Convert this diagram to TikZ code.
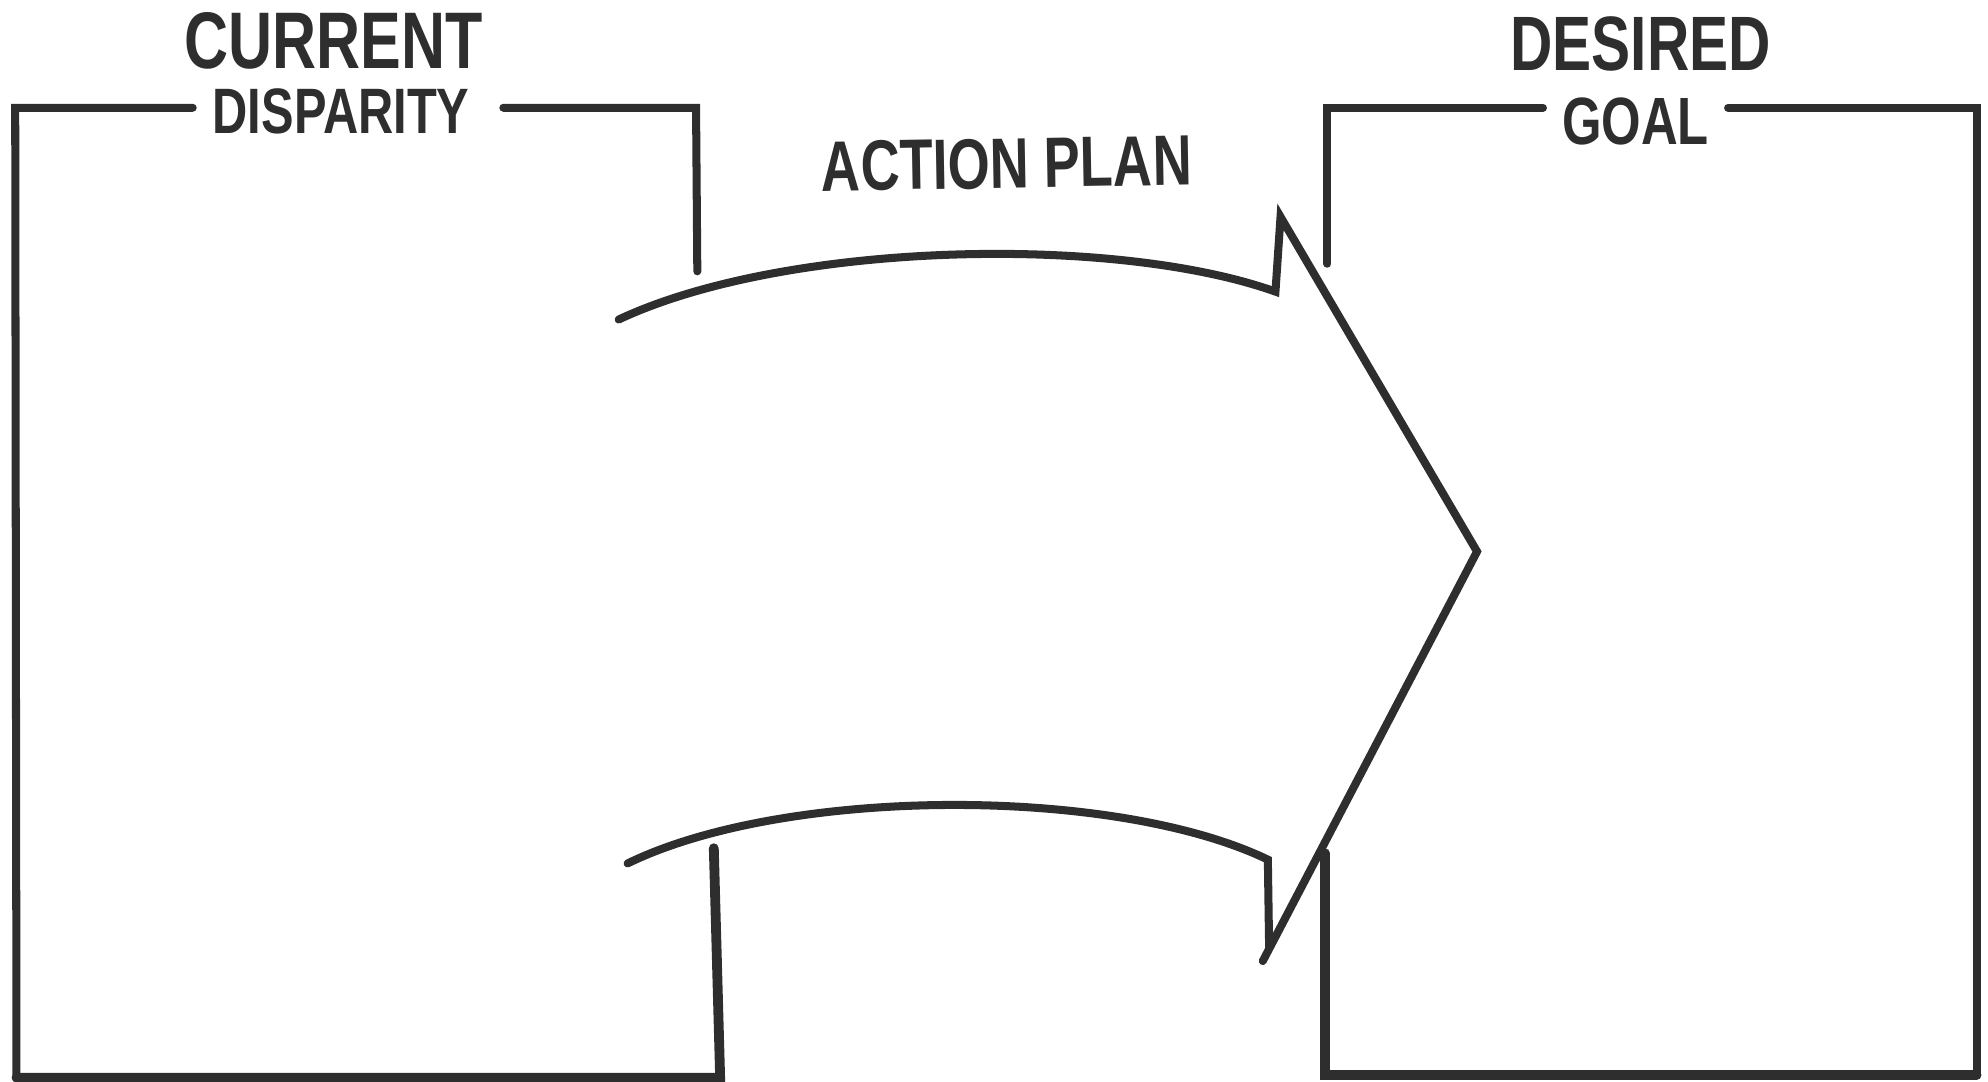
\documentclass[tikz,border=0pt]{standalone}
\usepackage{fontspec}
\newfontfamily\handfont[FakeStretch=0.76]{Liberation Sans Bold}
\usetikzlibrary{positioning}
\definecolor{marker}{HTML}{2E2E2E}

\begin{document}
\begin{tikzpicture}[
    x=0.01cm, y=-0.01cm,
    pen/.style={draw=marker, line width=1.8pt, line cap=round, line join=miter},
    heavy/.style={pen, line width=2.2pt},
    title/.style={text=marker, inner sep=0pt, font=\handfont\fontsize{18}{18}\selectfont},
    subtitle/.style={text=marker, inner sep=0pt, font=\handfont\fontsize{14.4}{14.4}\selectfont}
]
    \useasboundingbox (0,0) rectangle (1568,853);

    % Current disparity box
    \node[title] (current) at (263,32) {CURRENT};
    \node[subtitle] (disparity) at (269,88) {DISPARITY};
    \draw[pen] (152,85) -- (12,85) -- (13,850);
    \draw[pen] (397,85) -- (549,85) -- (550,214);
    \draw[heavy] (13,850) -- (568,850) -- (563,669);

    % Desired goal box
    \node[title, font=\handfont\fontsize{17.3}{17.3}\selectfont] (desired) at (1294,35) {DESIRED};
    \node[subtitle, font=\handfont\fontsize{15}{15}\selectfont] (goal) at (1290,96) {GOAL};
    \draw[pen] (1217,85) -- (1047,85) -- (1047,208);
    \draw[pen] (1363,85) -- (1559,85) -- (1559,848);
    \draw[heavy] (1559,848) -- (1045,848) -- (1045,673);

    % Action plan arrow
    \node[subtitle, font=\handfont\fontsize{16}{16}\selectfont, rotate=1] (plan) at (794,129) {ACTION PLAN};
    \coordinate (tip) at (1165,435);
    \draw[pen] (488,252) .. controls (620,190) and (880,185) .. (1006,230) -- (1010,171) -- (tip) -- (996,758);
    \draw[pen] (495,681) .. controls (620,620) and (880,620) .. (1000,678) -- (1001,747);
\end{tikzpicture}
\end{document}
